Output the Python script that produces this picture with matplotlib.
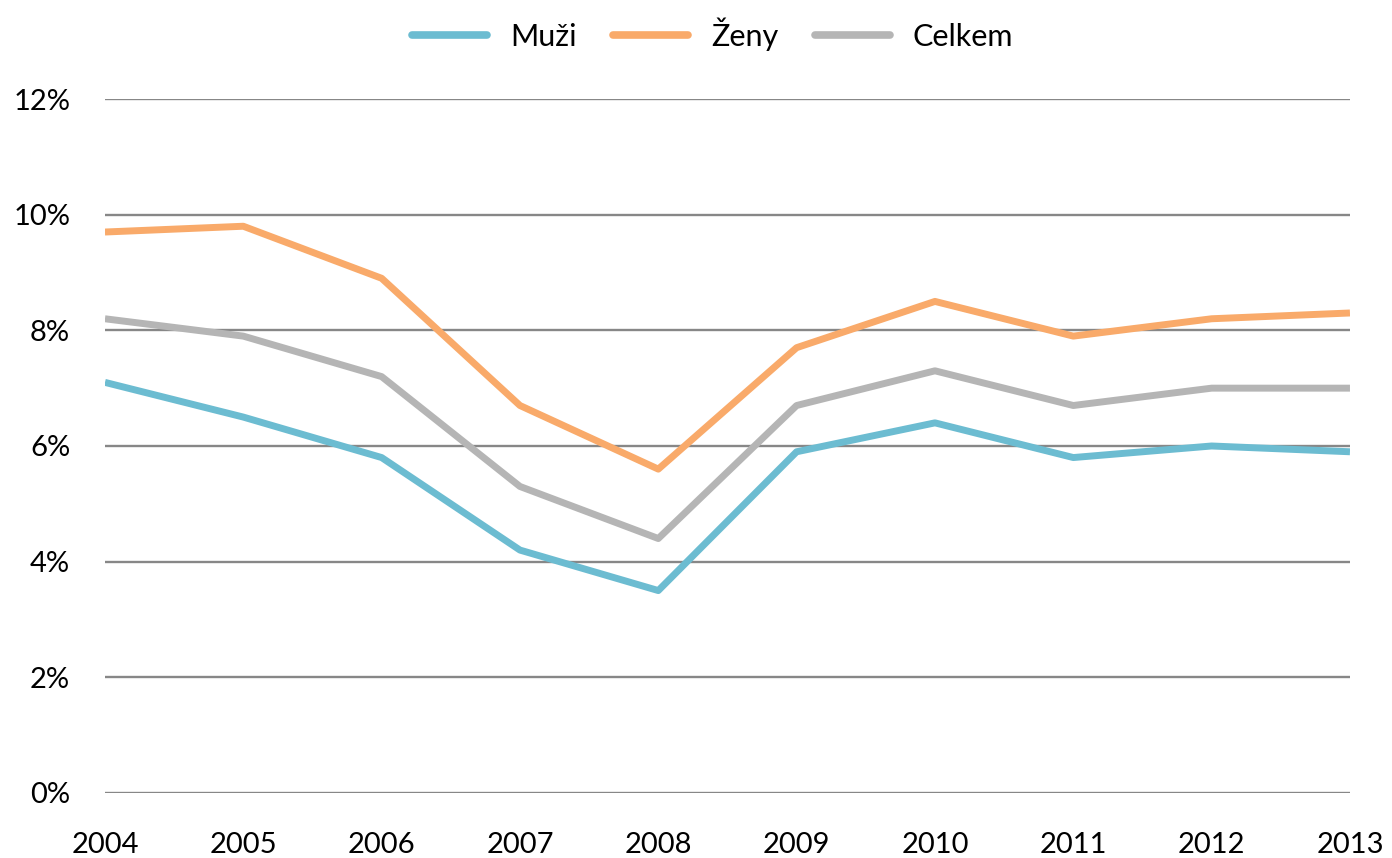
import matplotlib
matplotlib.use("Agg")
import matplotlib.pyplot as plt
from matplotlib.ticker import FuncFormatter

years = [2004, 2005, 2006, 2007, 2008, 2009, 2010, 2011, 2012, 2013]
muzi = [7.1, 6.5, 5.8, 4.2, 3.5, 5.9, 6.4, 5.8, 6.0, 5.9]
zeny = [9.7, 9.8, 8.9, 6.7, 5.6, 7.7, 8.5, 7.9, 8.2, 8.3]
celkem = [8.2, 7.9, 7.2, 5.3, 4.4, 6.7, 7.3, 6.7, 7.0, 7.0]
series_names = ["Muži", "Ženy", "Celkem"]
colors = ["#6cbcd1", "#f9aa6a", "#b5b5b5"]
yticks = [0, 2, 4, 6, 8, 10, 12]

plt.rcParams['font.family'] = ['Lato', 'DejaVu Sans']

fig = plt.figure(figsize=(13.92, 8.58), dpi=100)
ax = fig.add_axes([0.0754, 0.0758, 0.8944, 0.8088])

for vals, name, c in zip([muzi, zeny, celkem], series_names, colors):
    ax.plot(years, vals, color=c, lw=5.0, label=name, solid_capstyle='butt', zorder=3)

ax.set_ylim(0, 12)
ax.set_xlim(years[0], years[-1])
ax.set_yticks(yticks)
ax.yaxis.set_major_formatter(FuncFormatter(lambda v, p: f"{int(v)}%"))
ax.set_xticks(years)
ax.grid(axis='y', color='#878787', lw=1.7, zorder=1)
ax.set_axisbelow(True)
for s in ax.spines.values():
    s.set_visible(False)
ax.tick_params(axis='both', length=0, labelsize=21, colors='black')
ax.tick_params(axis='y', pad=25)
ax.tick_params(axis='x', pad=28)

leg = fig.legend(loc='upper center', bbox_to_anchor=(0.512, 1.012), ncol=3, frameon=False,
                 fontsize=22, handlelength=2.45, columnspacing=1.2, handletextpad=0.75)
for h in leg.get_lines():
    h.set_linewidth(5.5)
    h.set_solid_capstyle('round')

fig.savefig("out.png", dpi=100)
